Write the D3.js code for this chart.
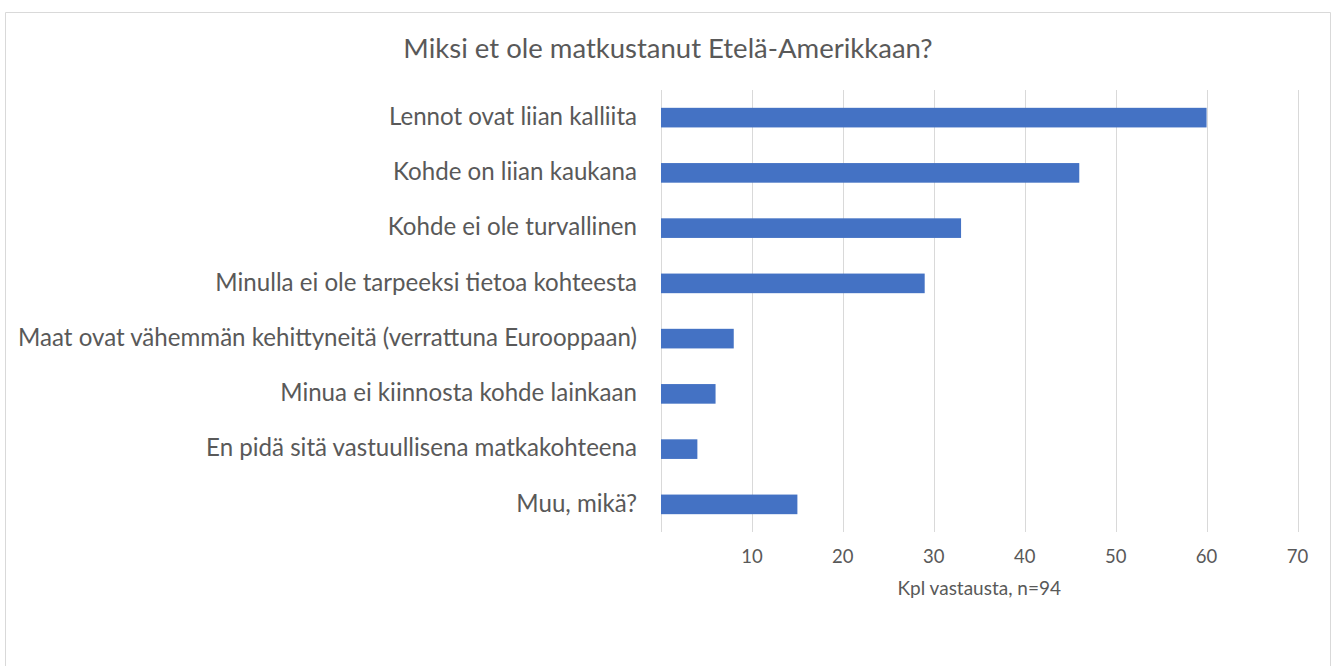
<!DOCTYPE html>
<html><head><meta charset="utf-8">
<script src="https://cdn.jsdelivr.net/npm/d3@7"></script>
<style>
html,body{margin:0;padding:0;background:#fff;}
svg{display:block;}
text{font-family:Lato,"Open Sans",sans-serif;fill:#595959;}
</style></head>
<body>
<svg id="chart" width="1336" height="666"></svg>
<script>
const title = "Miksi et ole matkustanut Etelä-Amerikkaan?";
const categories = [
  "Lennot ovat liian kalliita",
  "Kohde on liian kaukana",
  "Kohde ei ole turvallinen",
  "Minulla ei ole tarpeeksi tietoa kohteesta",
  "Maat ovat vähemmän kehittyneitä (verrattuna Eurooppaan)",
  "Minua ei kiinnosta kohde lainkaan",
  "En pidä sitä vastuullisena matkakohteena",
  "Muu, mikä?"
];
const values = [60, 46, 33, 29, 8, 6, 4, 15];
const tickValues = [10, 20, 30, 40, 50, 60, 70];
const gridValues = [0, 10, 20, 30, 40, 50, 60, 70];
const xAxisTitle = "Kpl vastausta, n=94";

const svg = d3.select("#chart");
// outer chart border
svg.append("path")
  .attr("d", "M5.5,666 L5.5,12.5 L1330.5,12.5 L1330.5,666")
  .attr("fill", "none").attr("stroke", "#d9d9d9").attr("stroke-width", 1);

const x = d3.scaleLinear().domain([0, 70]).range([661, 1297.5]);
const y = d3.scaleBand().domain(categories).range([90, 532]).paddingInner(0.645).paddingOuter(0.3225);

// gridlines
svg.append("g").selectAll("line").data(gridValues).join("line")
  .attr("x1", d => Math.round(x(d)) + 0.5).attr("x2", d => Math.round(x(d)) + 0.5)
  .attr("y1", 90).attr("y2", 532)
  .attr("stroke", "#d9d9d9").attr("stroke-width", 1);

// bars
svg.append("g").selectAll("rect").data(values).join("rect")
  .attr("x", x(0))
  .attr("y", (d, i) => y(categories[i]))
  .attr("width", d => x(d) - x(0))
  .attr("height", y.bandwidth())
  .attr("fill", "#4472c4");

// category labels
svg.append("g").selectAll("text").data(categories).join("text")
  .attr("x", 637)
  .attr("y", d => y(d) + y.bandwidth() / 2)
  .attr("dy", "0.3em")
  .attr("text-anchor", "end")
  .style("font-size", "24.1px")
  .text(d => d);

// tick labels
svg.append("g").selectAll("text").data(tickValues).join("text")
  .attr("x", d => x(d))
  .attr("y", 557)
  .attr("dy", "0.35em")
  .attr("text-anchor", "middle")
  .style("font-size", "18.5px")
  .text(d => d);

// axis title
svg.append("text")
  .attr("x", x(35)).attr("y", 588).attr("dy", "0.35em")
  .attr("text-anchor", "middle")
  .style("font-size", "19px")
  .text(xAxisTitle);

// chart title
svg.append("text")
  .attr("x", 668).attr("y", 48).attr("dy", "0.35em")
  .attr("text-anchor", "middle")
  .style("font-size", "27.5px")
  .text(title);
</script>
</body></html>
